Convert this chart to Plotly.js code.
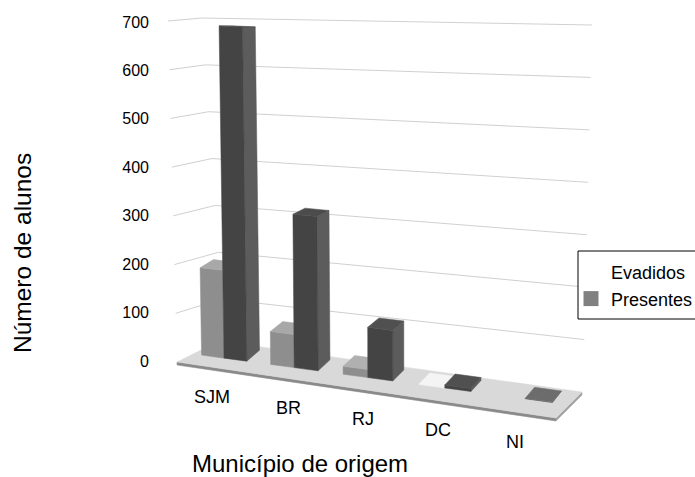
<!DOCTYPE html>
<html><head><meta charset="utf-8">
<script src="https://cdn.plot.ly/plotly-3.0.1.min.js"></script>
<style>html,body{margin:0;padding:0;background:#fff}#c{width:695px;height:477px}</style>
</head><body><div id="c"></div>
<script>
const categories = ['SJM','BR','RJ','DC','NI'];
const seriesNames = ['Evadidos','Presentes'];
const evadidos = [183,68,16,1,0];
const presentes = [692,314,101,6,1];
const yTicks = [0,100,200,300,400,500,600,700];
const yAxisTitle = 'Número de alunos';
const xAxisTitle = 'Município de origem';
const evadidosFront = ['#8e8e8e','#8e8e8e','#8e8e8e','#f2f2f2','#ffffff'];
const evadidosTop = ['#a8a8a8','#a8a8a8','#b0b0b0','#f4f4f4','#ffffff'];
const presentesFront = ['#444444','#444444','#444444','#444444','#5e5e5e'];
const presentesSide = ['#5c5c5c','#5c5c5c','#5c5c5c','#5c5c5c','#5e5e5e'];
const presentesTop = ['#4c4c4c','#4c4c4c','#505050','#505050','#6c6c6c'];

const W=695,H=477,LEFT=150,VMAX=700;
const wallBase={FL:[177,362],FR:[556,418],BL:[225,346],BR:[583,392]};
const wallTop={FL:[168,21],FR:[566,46],BL:[202,18],BR:[592,25]};
function bil(c,u,w,i){return (1-u)*(1-w)*c.FL[i]+u*(1-w)*c.FR[i]+(1-u)*w*c.BL[i]+u*w*c.BR[i];}
const K=VMAX/339, Y0=361;
function toAxis(p){return [p[0],(Y0-p[1])*K];}
function wall(u,w,v){const t=v/VMAX;return toAxis([0,1].map(i=>(1-t)*bil(wallBase,u,w,i)+t*bil(wallTop,u,w,i)));}
function barP(s,d,v){
  const x0=224+68.5*s+1.7*s*s, y0=358+0.135*(x0-223);
  const t=v/VMAX;
  const lean=t*(-5+(x0-223)*0.03);
  const lift=v*(0.48+(x0-223)*0.00012);
  const dx=d*(13-(x0-223)*0.012), dy=-d*11*(1-t);
  return toAxis([x0+lean+dx,y0-lift+dy]);
}
const traces=[];
function poly(pts,color){
  traces.push({type:'scatter',mode:'lines',x:pts.map(p=>p[0]).concat(pts[0][0]),y:pts.map(p=>p[1]).concat(pts[0][1]),
    fill:'toself',fillcolor:color,line:{color:color,width:0.5},hoverinfo:'skip',showlegend:false,cliponaxis:false});
}
function pline(pts,color){
  traces.push({type:'scatter',mode:'lines',x:pts.map(p=>p[0]),y:pts.map(p=>p[1]),line:{color:color,width:1},hoverinfo:'skip',showlegend:false,cliponaxis:false});
}
yTicks.filter(v=>v>0).forEach(v=>{pline([wall(0,0,v),wall(0,1,v),wall(1,1,v)],'#d0d0d0');});
const TH=3*K;
const fl=toAxis([177,362]),fr=toAxis([556,418]),bl=toAxis([219,341]),br=toAxis([582,392]);
const dn=p=>[p[0],p[1]-TH];
poly([fl,fr,dn(fr),dn(fl)],'#8a8a8a');
poly([fr,br,dn(br),dn(fr)],'#a0a0a0');
poly([fl,fr,br,bl],'#d9d9d9');
const BW=0.33;
function bar(a,b,v,fc,sc,tc){
  if(sc) poly([barP(b,0,0),barP(b,1,0),barP(b,1,v),barP(b,0,v)],sc);
  poly([barP(a,0,0),barP(b,0,0),barP(b,0,v),barP(a,0,v)],fc);
  poly([barP(a,0,v),barP(b,0,v),barP(b,1,v),barP(a,1,v)],tc);
}
categories.forEach((c,i)=>{
  if(evadidos[i]>0) bar(i-BW,i,evadidos[i],evadidosFront[i],null,evadidosTop[i]);
  bar(i,i+BW,presentes[i],presentesFront[i],presentesSide[i],presentesTop[i]);
});
traces.push({type:'scatter',mode:'markers',x:[null],y:[null],name:seriesNames[0],marker:{symbol:'square',size:15,color:'#ffffff'},showlegend:true,hoverinfo:'skip'});
traces.push({type:'scatter',mode:'markers',x:[null],y:[null],name:seriesNames[1],marker:{symbol:'square',size:15,color:'#808080'},showlegend:true,hoverinfo:'skip'});

const catPx=[[212,397],[288,408],[363,419],[438,430],[515,442]];
const annotations=categories.map((c,i)=>({text:c,xref:'x',yref:'y',x:catPx[i][0],y:(Y0-catPx[i][1])*K,xanchor:'center',yanchor:'middle',showarrow:false,font:{family:'Liberation Sans',size:18,color:'#000'}}));
annotations.push({text:yAxisTitle,xref:'paper',yref:'paper',x:(22-LEFT)/(W-LEFT),y:1-253/H,xanchor:'center',yanchor:'middle',textangle:-90,showarrow:false,font:{family:'Liberation Sans',size:24.5,color:'#000'}});
annotations.push({text:xAxisTitle,xref:'x',yref:'y',x:300,y:(Y0-463)*K,xanchor:'center',yanchor:'middle',showarrow:false,font:{family:'Liberation Sans',size:24,color:'#000'}});

const layout={width:W,height:H,margin:{l:LEFT,r:0,t:0,b:0,autoexpand:false},paper_bgcolor:'#fff',plot_bgcolor:'rgba(0,0,0,0)',
  font:{family:'Liberation Sans',color:'#000'},
  xaxis:{range:[LEFT,W],visible:false,fixedrange:true},
  yaxis:{range:[(Y0-H)*K,Y0*K],tickmode:'array',tickvals:yTicks,ticktext:yTicks.map(String),showgrid:false,zeroline:false,showline:false,ticks:'',tickfont:{family:'Liberation Sans',size:16,color:'#000'},fixedrange:true},
  legend:{x:(571-LEFT)/(W-LEFT),xanchor:'left',y:1-254/H,yanchor:'top',bgcolor:'rgba(0,0,0,0)',borderwidth:0,font:{family:'Liberation Sans',size:18,color:'#000'}},
  shapes:[{type:'rect',layer:'above',xref:'paper',yref:'paper',x0:(578-LEFT)/(W-LEFT),x1:1.01,y0:1-319/H,y1:1-251/H,fillcolor:'#fff',line:{color:'#000',width:1}}],
  annotations:annotations,showlegend:true};
Plotly.newPlot('c',traces,layout,{displayModeBar:false,staticPlot:true});
</script></body></html>
